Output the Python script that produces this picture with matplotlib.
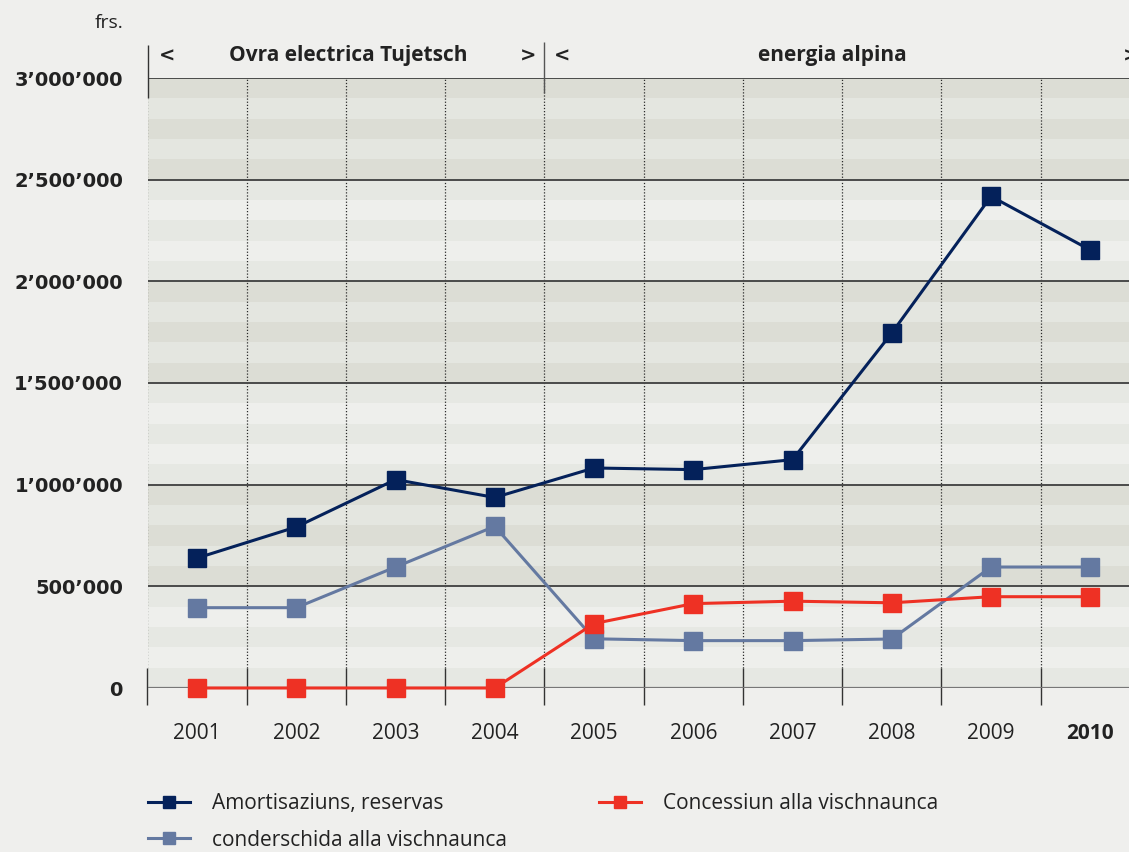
import matplotlib
matplotlib.use("Agg")
import matplotlib.pyplot as plt

# data
years = [2001, 2002, 2003, 2004, 2005, 2006, 2007, 2008, 2009, 2010]
amortisaziuns = [639000, 792000, 1025000, 937000, 1082000, 1074000, 1123000, 1746000, 2418000, 2154000]
conderschida = [395000, 395000, 595000, 795000, 242000, 233000, 233000, 241000, 595000, 595000]
concessiun = [0, 0, 0, 0, 317000, 415000, 427000, 419000, 449000, 449000]
y_ticks = [0, 500000, 1000000, 1500000, 2000000, 2500000, 3000000]
y_labels = ["0", "500\u2019000", "1\u2019000\u2019000", "1\u2019500\u2019000",
            "2\u2019000\u2019000", "2\u2019500\u2019000", "3\u2019000\u2019000"]
periods = ["Ovra electrica Tujetsch", "energia alpina"]

bg = "#efefed"
navy = "#04215a"
steel = "#6479a1"
red = "#ee3124"

fig = plt.figure(figsize=(11.29, 8.52), dpi=100, facecolor=bg)
ax = fig.add_axes([148 / 1129, 1 - 688 / 852, 981 / 1129, 610 / 852])
ax.set_facecolor(bg)
ax.set_xlim(2000.506, 2010.39)
ax.set_ylim(0, 3000000)

# striped background, 100'000 per stripe, alternating tone per 500'000 band
for i in range(30):
    lo = i * 100000
    band = i // 5
    if band % 2 == 1:
        col = "#dcddd5" if i % 2 == 1 else "#e4e6e0"
    else:
        col = "#e6e8e3" if i % 2 == 0 else "#eeefec"
    ax.axhspan(lo, lo + 100000, color=col, lw=0, zorder=0)

# vertical separators between years
bounds = [y - 0.5 for y in years]
ax.vlines(bounds, 100000, 3000000, colors="#2a2a2a", linestyles=(0, (1, 1.5)), lw=0.9, zorder=1)
ax.vlines(bounds, -85000, 100000, colors="#333333", lw=1.0, zorder=1, clip_on=False)

# horizontal lines
for v in y_ticks[1:]:
    ax.axhline(v, color="#4a4a4a", lw=1.4, zorder=2)
ax.axhline(0, color="#777777", lw=1.6, zorder=2)

for s in ax.spines.values():
    s.set_visible(False)

ms = 13
ax.plot(years, conderschida, color=steel, lw=2.2, marker="s", ms=ms, zorder=4,
        label="conderschida alla vischnaunca")
ax.plot(years, concessiun, color=red, lw=2.2, marker="s", ms=ms, zorder=5,
        label="Concessiun alla vischnaunca", clip_on=False)
ax.plot(years, amortisaziuns, color=navy, lw=2.2, marker="s", ms=ms, zorder=6,
        label="Amortisaziuns, reservas")

ax.set_yticks(y_ticks)
ax.set_yticklabels(y_labels, fontsize=14, fontweight="bold", family="DejaVu Sans", color="#222222")
ax.set_xticks(years)
ax.set_xticklabels([str(y) for y in years], fontsize=15, family="Open Sans", color="#222222")
ax.get_xticklabels()[-1].set_fontweight("bold")
ax.tick_params(axis="y", length=0, pad=18)
ax.tick_params(axis="x", length=0, pad=25)

# header with the two operator periods
hdr = dict(fontsize=15, fontweight="bold", family="Open Sans", color="#222222",
           va="center", clip_on=False)
arr = dict(fontsize=14, fontweight="bold", family="DejaVu Sans", color="#222222",
           va="center", clip_on=False)
yh = 3110000
ax.vlines([2000.506], 2902000, 3162000, colors="#333333", lw=1.0, clip_on=False, zorder=3)
ax.vlines([2004.5], 2925000, 3175000, colors="#555555", lw=1.0, clip_on=False, zorder=3)
ax.text(2000.62, yh, "<", ha="left", **arr)
ax.text(2002.52, yh, periods[0], ha="center", **hdr)
ax.text(2004.42, yh, ">", ha="right", **arr)
ax.text(2004.6, yh, "<", ha="left", **arr)
ax.text(2007.4, yh, periods[1], ha="center", **hdr)
ax.text(2010.33, yh, ">", ha="left", **arr)

fig.text(123 / 1129, 1 - 23 / 852, "frs.", ha="right", va="center", fontsize=14,
         family="Open Sans", color="#222222")

h, l = ax.get_legend_handles_labels()
order = [2, 0, 1]
leg = fig.legend([h[i] for i in order], [l[i] for i in order], ncol=2,
                 loc="upper left", bbox_to_anchor=(148 / 1129, 1 - 793 / 852),
                 frameon=False, fontsize=15, handlelength=2.0, handletextpad=1.05,
                 columnspacing=4.45, labelspacing=0.75, markerscale=0.7, borderpad=0,
                 borderaxespad=0)
for t in leg.get_texts():
    t.set_family("Open Sans")
    t.set_color("#222222")

fig.savefig("out.png", dpi=100, facecolor=bg)
